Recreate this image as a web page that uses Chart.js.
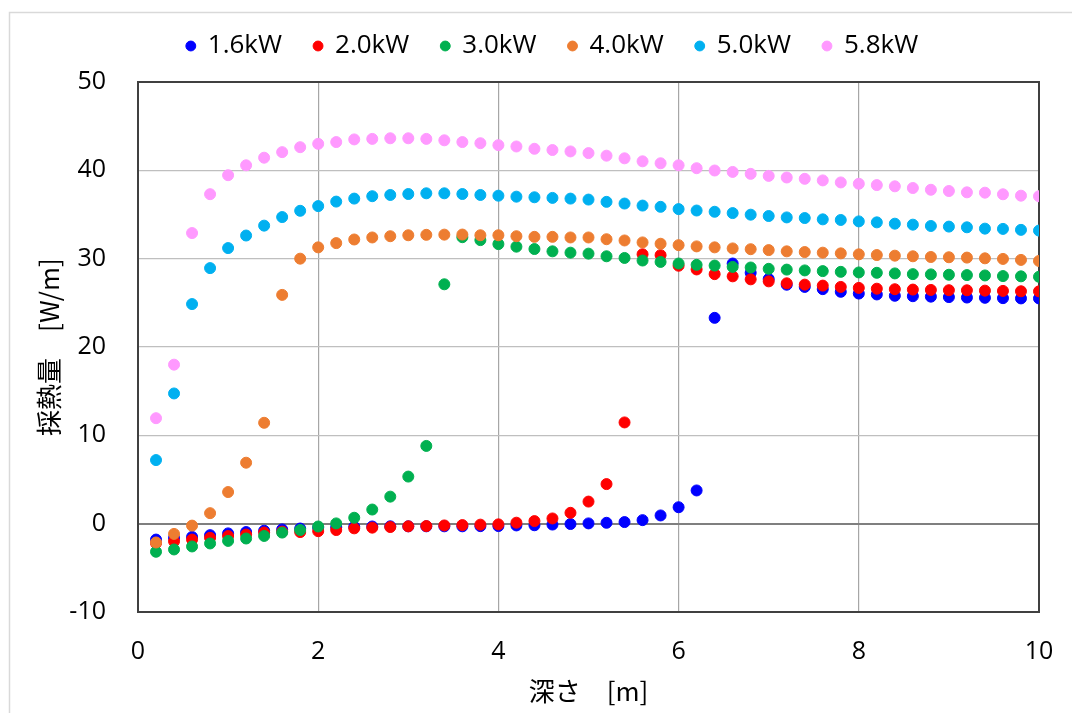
<!DOCTYPE html>
<html>
<head>
<meta charset="utf-8">
<script src="https://cdn.jsdelivr.net/npm/chart.js@4.4.1/dist/chart.umd.min.js"></script>
<style>
  html, body { margin: 0; padding: 0; background: #ffffff; }
  canvas { display: block; }
</style>
</head>
<body>
<canvas id="chart" width="1072" height="713"></canvas>
<script>
// depth [m]
const depths = [
  0.2, 0.4, 0.6, 0.8, 1.0, 1.2, 1.4, 1.6, 1.8, 2.0,
  2.2, 2.4, 2.6, 2.8, 3.0, 3.2, 3.4, 3.6, 3.8, 4.0,
  4.2, 4.4, 4.6, 4.8, 5.0, 5.2, 5.4, 5.6, 5.8, 6.0,
  6.2, 6.4, 6.6, 6.8, 7.0, 7.2, 7.4, 7.6, 7.8, 8.0,
  8.2, 8.4, 8.6, 8.8, 9.0, 9.2, 9.4, 9.6, 9.8, 10.0,
];

// heat extraction [W/m] per heater output
const kw16 = [
  -1.8, -1.6, -1.5, -1.3, -1.1, -0.95, -0.8, -0.65, -0.55, -0.45,
  -0.4, -0.35, -0.32, -0.3, -0.3, -0.3, -0.3, -0.3, -0.28, -0.27,
  -0.2, -0.18, -0.1, -0.04, 0.03, 0.1, 0.18, 0.4, 0.93, 1.86,
  3.76, 23.3, 29.45, 28.4, 27.7, 27.05, 26.8, 26.55, 26.25, 26.05,
  25.95, 25.8, 25.75, 25.7, 25.65, 25.6, 25.57, 25.53, 25.5, 25.5,
];
const kw20 = [
  -2.2, -2.0, -1.8, -1.6, -1.4, -1.23, -1.0, -0.9, -0.95, -0.85,
  -0.72, -0.53, -0.45, -0.38, -0.3, -0.27, -0.2, -0.16, -0.11, -0.08,
  0.11, 0.29, 0.59, 1.23, 2.5, 4.48, 11.46, 30.5, 30.4, 29.2,
  28.78, 28.25, 28.0, 27.66, 27.43, 27.21, 27.06, 26.95, 26.8, 26.69,
  26.6, 26.54, 26.5, 26.46, 26.43, 26.42, 26.38, 26.35, 26.31, 26.3,
];
const kw30 = [
  -3.18, -2.92, -2.58, -2.24, -1.95, -1.68, -1.39, -1.01, -0.72, -0.32,
  0.03, 0.67, 1.6, 3.06, 5.33, 8.8, 27.1, 32.43, 32.1, 31.65,
  31.36, 31.09, 30.83, 30.68, 30.57, 30.27, 30.08, 29.79, 29.63, 29.45,
  29.3, 29.22, 29.07, 29.0, 28.85, 28.76, 28.67, 28.59, 28.51, 28.44,
  28.4, 28.33, 28.25, 28.22, 28.18, 28.14, 28.1, 28.03, 28.0, 27.95,
];
const kw40 = [
  -2.13, -1.16, -0.22, 1.19, 3.58, 6.9, 11.42, 25.9, 30.0, 31.28,
  31.76, 32.17, 32.4, 32.54, 32.65, 32.7, 32.72, 32.73, 32.65, 32.65,
  32.54, 32.47, 32.47, 32.4, 32.4, 32.2, 32.06, 31.84, 31.69, 31.53,
  31.39, 31.28, 31.16, 31.07, 30.97, 30.83, 30.75, 30.68, 30.6, 30.49,
  30.41, 30.34, 30.27, 30.19, 30.16, 30.12, 30.04, 29.97, 29.86, 29.74,
];
const kw50 = [
  7.2, 14.74, 24.86, 28.93, 31.2, 32.62, 33.74, 34.71, 35.42, 35.95,
  36.46, 36.8, 37.07, 37.21, 37.32, 37.4, 37.4, 37.32, 37.21, 37.13,
  37.02, 36.95, 36.88, 36.8, 36.69, 36.43, 36.24, 36.01, 35.87, 35.61,
  35.45, 35.31, 35.16, 34.98, 34.83, 34.67, 34.6, 34.45, 34.38, 34.22,
  34.11, 33.96, 33.85, 33.7, 33.63, 33.55, 33.4, 33.37, 33.26, 33.18,
];
const kw58 = [
  11.94, 18.0, 32.9, 37.3, 39.45, 40.57, 41.43, 42.06, 42.62, 43.0,
  43.2, 43.5, 43.56, 43.63, 43.63, 43.56, 43.4, 43.2, 43.07, 42.85,
  42.7, 42.44, 42.3, 42.14, 41.95, 41.66, 41.36, 41.02, 40.8, 40.57,
  40.24, 39.98, 39.82, 39.6, 39.37, 39.19, 39.04, 38.86, 38.63, 38.48,
  38.33, 38.19, 38.0, 37.8, 37.66, 37.51, 37.47, 37.29, 37.13, 37.07,
];

const seriesLabels = ["1.6kW", "2.0kW", "3.0kW", "4.0kW", "5.0kW", "5.8kW"];
const seriesValues = [kw16, kw20, kw30, kw40, kw50, kw58];
const seriesColors = ["#0000FF", "#FF0000", "#00B050", "#ED7D31", "#00B0F0", "#FF99FF"];

const xTicks = [0, 2, 4, 6, 8, 10];
const yTicks = [-10, 0, 10, 20, 30, 40, 50];

const TEXT_COLOR = "#000000";
const LATIN_FONT = "'Open Sans', 'Noto Sans', sans-serif";
const JP_FONT = "'Noto Sans CJK JP', 'Noto Sans', sans-serif";

// frame round the plot area and the light outer border
const framePlugin = {
  id: "frame",
  beforeDatasetsDraw(chart) {
    const { ctx, chartArea: { left, top, right, bottom } } = chart;
    ctx.save();
    ctx.strokeStyle = "#404040";
    ctx.lineWidth = 2;
    ctx.strokeRect(left, top, right - left, bottom - top);
    ctx.restore();
  },
  afterDraw(chart) {
    const { ctx } = chart;
    ctx.save();
    ctx.strokeStyle = "#D9D9D9";
    ctx.lineWidth = 1.5;
    ctx.strokeRect(9.5, 12.5, chart.width + 20, chart.height + 20);
    ctx.restore();
  },
  afterLayout(chart) {
    // legend sits right of the canvas centre and close to the top border
    const dx = 16;
    const dy = -13;
    chart.legend.left += dx;
    chart.legend.right += dx;
    chart.legend.top += dy;
    chart.legend.bottom += dy;
  },
};

const chart = new Chart(document.getElementById("chart"), {
  type: "scatter",
  data: {
    datasets: seriesLabels.map((label, i) => ({
      label,
      data: depths.map((x, j) => ({ x, y: seriesValues[i][j] })),
      backgroundColor: seriesColors[i],
      borderColor: seriesColors[i],
      borderWidth: 1,
      pointRadius: 5.5,
      pointHoverRadius: 5.5,
      order: seriesLabels.length - i,
    })),
  },
  options: {
    responsive: false,
    animation: false,
    events: [],
    layout: { padding: { left: 34, right: 33, top: 14, bottom: 6 } },
    plugins: {
      tooltip: { enabled: false },
      legend: {
        position: "top",
        labels: {
          usePointStyle: true,
          pointStyle: "circle",
          boxWidth: 8,
          boxHeight: 7,
          padding: 32,
          color: TEXT_COLOR,
          font: { family: LATIN_FONT, size: 26 },
          sort: (a, b) => a.datasetIndex - b.datasetIndex,
        },
      },
    },
    scales: {
      x: {
        type: "linear",
        min: 0,
        max: 10,
        afterBuildTicks: (scale) => {
          scale.ticks = xTicks.map((value) => ({ value }));
        },
        afterFit: (scale) => {
          scale.height = 95;
          scale.paddingLeft = 0;
          scale.paddingRight = 0;
        },
        ticks: {
          padding: 25,
          color: TEXT_COLOR,
          font: { family: LATIN_FONT, size: 25 },
        },
        grid: {
          drawTicks: false,
          color: (c) => (c.tick && (c.tick.value === 0 || c.tick.value === 10) ? "rgba(0,0,0,0)" : "#A6A6A6"),
          lineWidth: 1.2,
        },
        border: { display: false },
        title: {
          display: true,
          text: "深さ　[m]",
          color: TEXT_COLOR,
          font: { family: JP_FONT, size: 26 },
          padding: { top: 0, bottom: 0 },
        },
      },
      y: {
        type: "linear",
        min: -10,
        max: 50,
        afterBuildTicks: (scale) => {
          scale.ticks = yTicks.map((value) => ({ value }));
        },
        afterFit: (scale) => {
          scale.width = 104;
          scale.paddingTop = 0;
          scale.paddingBottom = 0;
        },
        ticks: {
          padding: 32,
          color: TEXT_COLOR,
          font: { family: LATIN_FONT, size: 25 },
        },
        grid: {
          drawTicks: false,
          color: (c) => {
            if (!c.tick) return "#BFBFBF";
            if (c.tick.value === 0) return "#7F7F7F";
            if (c.tick.value === -10 || c.tick.value === 50) return "rgba(0,0,0,0)";
            return "#BFBFBF";
          },
          lineWidth: (c) => (c.tick && c.tick.value === 0 ? 2 : 1.2),
        },
        border: { display: false },
        title: {
          display: true,
          text: "採熱量　[W/m]",
          color: TEXT_COLOR,
          font: { family: JP_FONT, size: 26 },
          padding: { top: 0, bottom: 0 },
        },
      },
    },
  },
  plugins: [framePlugin],
});
</script>
</body>
</html>
